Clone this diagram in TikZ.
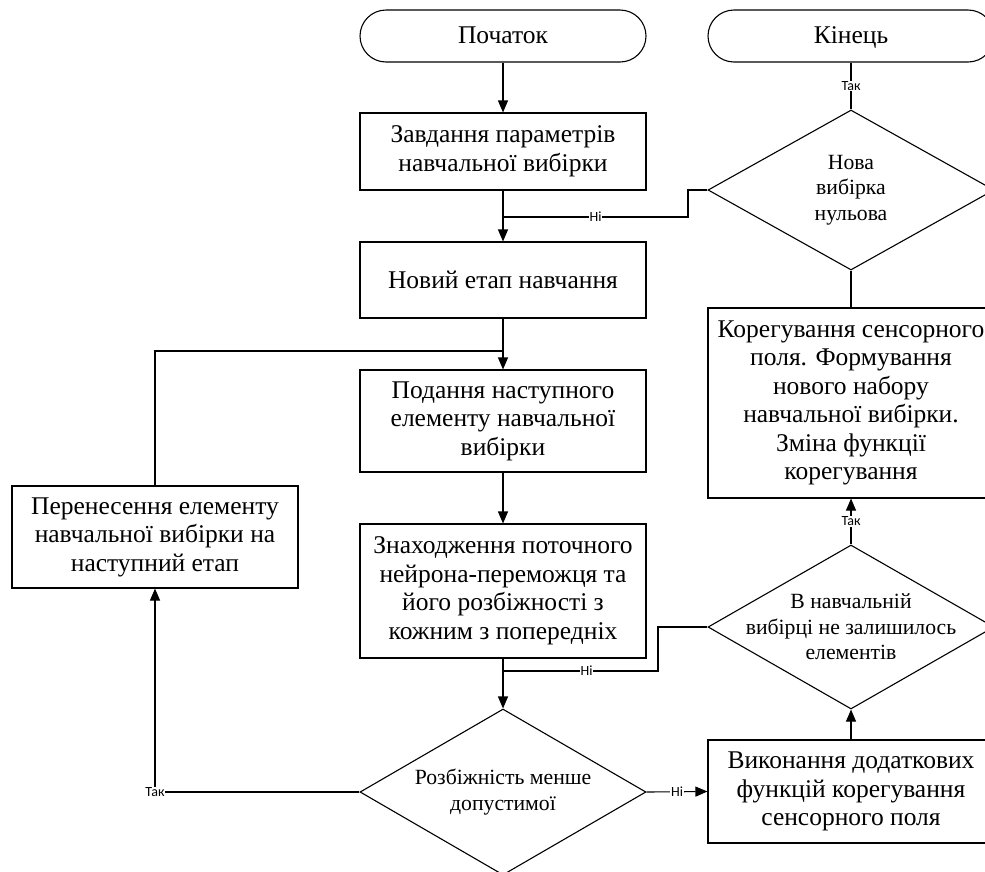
\documentclass[tikz,border=0pt]{standalone}
\usepackage{fontspec}
\setmainfont{Liberation Serif}
\newfontfamily\labfont{Carlito}
\usetikzlibrary{shapes.geometric,arrows.meta}
\begin{document}
\begin{tikzpicture}[x=1pt,y=-1pt,
  line width=1.1pt,
  box/.style={draw,rectangle,minimum width=286pt,inner sep=2pt,align=center,
    font=\fontsize{25.5}{28.5}\selectfont},
  term/.style={box,rounded corners=26pt,minimum height=52pt,text height=18pt,text depth=3.5pt},
  dia/.style={draw,diamond,inner sep=0pt,minimum width=286pt},
  dtext/.style={align=center,font=\fontsize{21.7}{25.5}\selectfont},
  lab/.style={fill=white,inner sep=0.6pt,font=\labfont\fontsize{14}{15}\selectfont},
  arr/.style={-{Triangle[length=12pt,width=10pt]}}
]
\clip (0,0) rectangle (985,871);
\fill[white] (0,0) rectangle (985,871);

\node[term] (start) at (503,36) {Початок};
\node[term] (end) at (851,36) {Кінець};
\node[box,minimum height=77pt] (b1) at (503,151.5) {Завдання параметрів\\навчальної вибірки};
\node[box,minimum height=76pt] (b2) at (503,280) {Новий етап навчання};
\node[box,minimum height=102pt] (b3) at (503,421) {Подання наступного\\елементу навчальної\\вибірки};
\node[box,minimum height=134pt] (b4) at (503,591) {Знаходження поточного\\нейрона-переможця та\\його розбіжності з\\кожним з попередніх};
\node[box,minimum height=102pt] (b5) at (155,537) {Перенесення елементу\\навчальної вибірки на\\наступний етап};
\node[box,minimum height=103pt] (b6) at (851,791.5) {Виконання додаткових\\функцій корегування\\сенсорного поля};
\node[box,minimum height=190pt] (b7) at (851,403) {Корегування сенсорного\\поля. Формування\\нового набору\\навчальної вибірки.\\Зміна функції\\корегування};

\node[dia,minimum height=160pt,label={[dtext]center:{Нова\\вибірка\\нульова}}] (d3) at (851,190) {};
\node[dia,minimum height=164pt,label={[dtext]center:{В навчальній\\вибірці не залишилось\\елементів}}] (d2) at (851,627) {};
\node[dia,minimum height=166pt,label={[dtext]center:{Розбіжність менше\\допустимої}}] (d1) at (503,792) {};

\coordinate (j1) at (503,217);
\coordinate (j2) at (503,351);
\coordinate (j3) at (503,671);
\coordinate (k1) at (688,190);
\coordinate (k2) at (658,627);
\coordinate (k3) at (155,351);
\coordinate (k4) at (155,792);

\draw[arr] (start) -- (b1);
\draw[arr] (b1) -- (b2);
\draw (d3.west) -- (k1) |- (j1) node[lab,pos=0.75] {Ні};
\draw (d3.north) -- (end.south) node[lab,midway] {Так};
\draw (d3.south) -- (b7.north);
\draw[arr] (b2) -- (b3);
\draw (b5.north) -- (k3) -- (j2);
\draw[arr] (b3) -- (b4);
\draw[arr] (b4) -- (d1.north);
\draw (d2.west) -- (k2) |- (j3) node[lab,pos=0.73] {Ні};
\draw[arr] (d1.west) -- (k4) node[lab] {Так} -- (b5.south);
\draw[arr] (d1.east) -- (b6.west) node[lab,midway] {Ні};
\draw[arr] (b6.north) -- (d2.south);
\draw[arr] (d2.north) -- (b7.south) node[lab,midway] {Так};
\end{tikzpicture}
\end{document}
